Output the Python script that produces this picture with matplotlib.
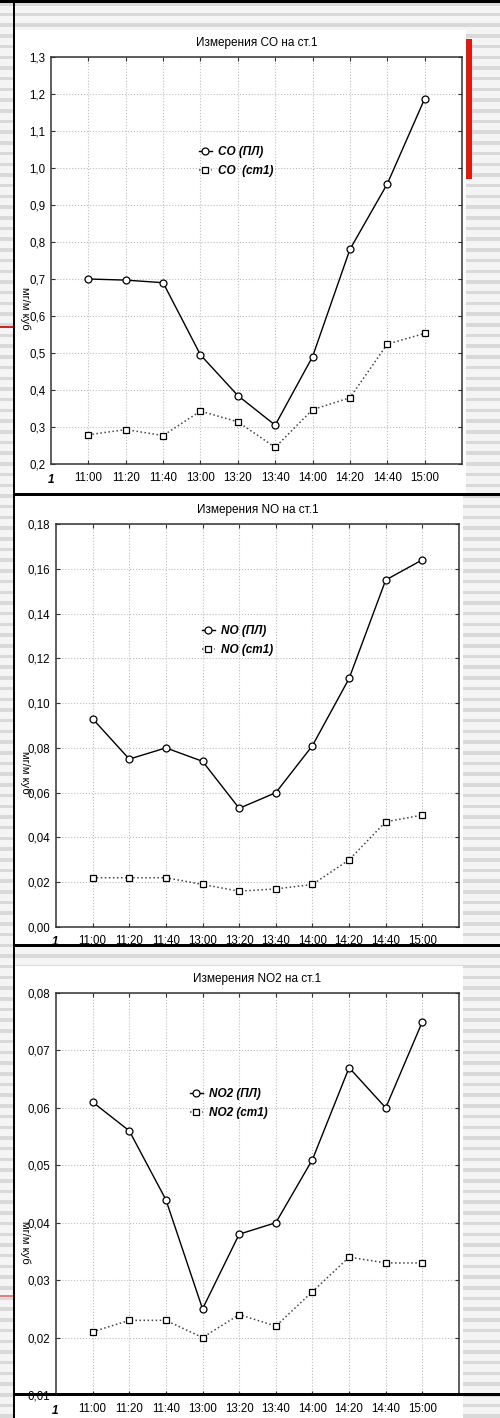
import numpy as np
import matplotlib
matplotlib.use("Agg")
import matplotlib.pyplot as plt
from matplotlib.patches import Rectangle

plt.rcParams['font.family'] = ['Liberation Sans Narrow', 'Liberation Sans', 'DejaVu Sans']

times = ['11:00', '11:20', '11:40', '13:00', '13:20', '13:40', '14:00', '14:20', '14:40', '15:00']

co_pl = [0.70, 0.697, 0.69, 0.495, 0.385, 0.305, 0.49, 0.78, 0.957, 1.187]
co_st1 = [0.279, 0.293, 0.277, 0.343, 0.314, 0.245, 0.347, 0.379, 0.524, 0.553]
co_ticks = [0.2, 0.3, 0.4, 0.5, 0.6, 0.7, 0.8, 0.9, 1.0, 1.1, 1.2, 1.3]

no_pl = [0.093, 0.075, 0.080, 0.074, 0.053, 0.060, 0.081, 0.111, 0.155, 0.164]
no_st1 = [0.022, 0.022, 0.022, 0.019, 0.016, 0.017, 0.019, 0.030, 0.047, 0.050]
no_ticks = [0.00, 0.02, 0.04, 0.06, 0.08, 0.10, 0.12, 0.14, 0.16, 0.18]

no2_pl = [0.061, 0.056, 0.044, 0.025, 0.038, 0.040, 0.051, 0.067, 0.060, 0.075]
no2_st1 = [0.021, 0.023, 0.023, 0.020, 0.024, 0.022, 0.028, 0.034, 0.033, 0.033]
no2_ticks = [0.01, 0.02, 0.03, 0.04, 0.05, 0.06, 0.07, 0.08]

titles = ['Измерения CO на ст.1', 'Измерения NO на ст.1', 'Измерения NO2 на ст.1']
legend_pl = ['CO (ПЛ)', 'NO (ПЛ)', 'NO2 (ПЛ)']
legend_st = ['CO  (ст1)', 'NO (ст1)', 'NO2 (ст1)']
ylabel = 'мг/м куб'

W, H = 500, 1418
fig = plt.figure(figsize=(W / 100, H / 100), dpi=100)
fig.patch.set_facecolor('#f4f4f4')


def fbox(x0, y0, x1, y1):
    # pixel box (top-left origin) -> figure fraction rect
    return [x0 / W, 1 - y1 / H, (x1 - x0) / W, (y1 - y0) / H]


# slide background with stripes
bg = fig.add_axes([0, 0, 1, 1], zorder=-5)
bg.set_xlim(0, W)
bg.set_ylim(H, 0)
bg.axis('off')
for y in np.arange(2, H, 10.7):
    bg.add_patch(Rectangle((0, y), W, 3.5, color='#d9d9d9', lw=0))
# white panels behind the charts
for (x0, y0, x1, y1) in [(15, 30, 466, 494), (15, 496, 463, 945), (15, 966, 463, 1418)]:
    bg.add_patch(Rectangle((x0, y0), x1 - x0, y1 - y0, color='white', lw=0))
bg.add_patch(Rectangle((0, 326), 13, 2, color='#c62828', lw=0))
bg.add_patch(Rectangle((0, 1295), 13, 2, color='#e08080', lw=0))
bg.add_patch(Rectangle((466, 39), 6, 140, color='#dd1a10', lw=0))

panels = [
    dict(box=(51, 57, 462, 464), pl=co_pl, st=co_st1, ticks=co_ticks, fmt='{:.1f}',
         leg=(199, 146), one=(51, 480), ylab=308),
    dict(box=(56, 524, 459, 927), pl=no_pl, st=no_st1, ticks=no_ticks, fmt='{:.2f}',
         leg=(202, 625), one=(55, 942), ylab=772),
    dict(box=(56, 993, 459, 1395), pl=no2_pl, st=no2_st1, ticks=no2_ticks, fmt='{:.2f}',
         leg=(190, 1088), one=(55, 1411), ylab=1242),
]

x = np.arange(1, len(times) + 1)
for i, p in enumerate(panels):
    ax = fig.add_axes(fbox(*p['box']))
    ax.set_facecolor('white')
    ax.plot(x, p['pl'], '-', color='black', lw=1, marker='o', ms=5,
            mfc='white', mec='black', mew=0.9, label=legend_pl[i], zorder=3)
    ax.plot(x, p['st'], ':', color='#444444', lw=1.1, marker='s', ms=4.5,
            mfc='white', mec='black', mew=0.9, label=legend_st[i], zorder=3)
    ax.set_xlim(0, 11)
    ax.set_ylim(p['ticks'][0], p['ticks'][-1])
    ax.set_xticks(x)
    ax.set_xticklabels(times)
    ax.set_yticks(p['ticks'])
    ax.set_yticklabels([p['fmt'].format(t).replace('.', ',') for t in p['ticks']])
    ax.tick_params(direction='in', length=3, width=0.8, labelsize=8.3, pad=4,
                   top=True, right=True, color='#333333')
    ax.tick_params(axis='x', pad=6)
    ax.grid(True, ls=':', color='#bdbdbd', lw=0.8)
    for s in ax.spines.values():
        s.set_color('#333333')
        s.set_linewidth(1.1)
    ax.set_title(titles[i], fontsize=8.5, pad=8)
    lx, ly = p['leg']
    ax.legend(loc='upper left', bbox_to_anchor=(lx / W, 1 - ly / H),
              bbox_transform=fig.transFigure, frameon=False, borderpad=0,
              borderaxespad=0, handlelength=1.1, handletextpad=0.5,
              labelspacing=0.6, prop=dict(weight='bold', style='italic', size=8.5))
    ox, oy = p['one']
    fig.text(ox / W, 1 - oy / H, '1', fontsize=8.5, weight='bold', style='italic',
             ha='center', va='center')
    fig.text(25 / W, 1 - p['ylab'] / H, ylabel, rotation=270, fontsize=8,
             family=['Liberation Sans', 'DejaVu Sans'], ha='center', va='center')

# black frame lines of the slide on top
top = fig.add_axes([0, 0, 1, 1], zorder=10)
top.set_xlim(0, W)
top.set_ylim(H, 0)
top.axis('off')
top.patch.set_alpha(0)
top.add_patch(Rectangle((12.5, 0), 2.5, H, color='black', lw=0))
top.add_patch(Rectangle((0, 0), W, 3, color='black', lw=0))
for y in [493, 944, 1393]:
    top.add_patch(Rectangle((12.5, y), W, 3, color='black', lw=0))

fig.savefig('out.png', dpi=100)
